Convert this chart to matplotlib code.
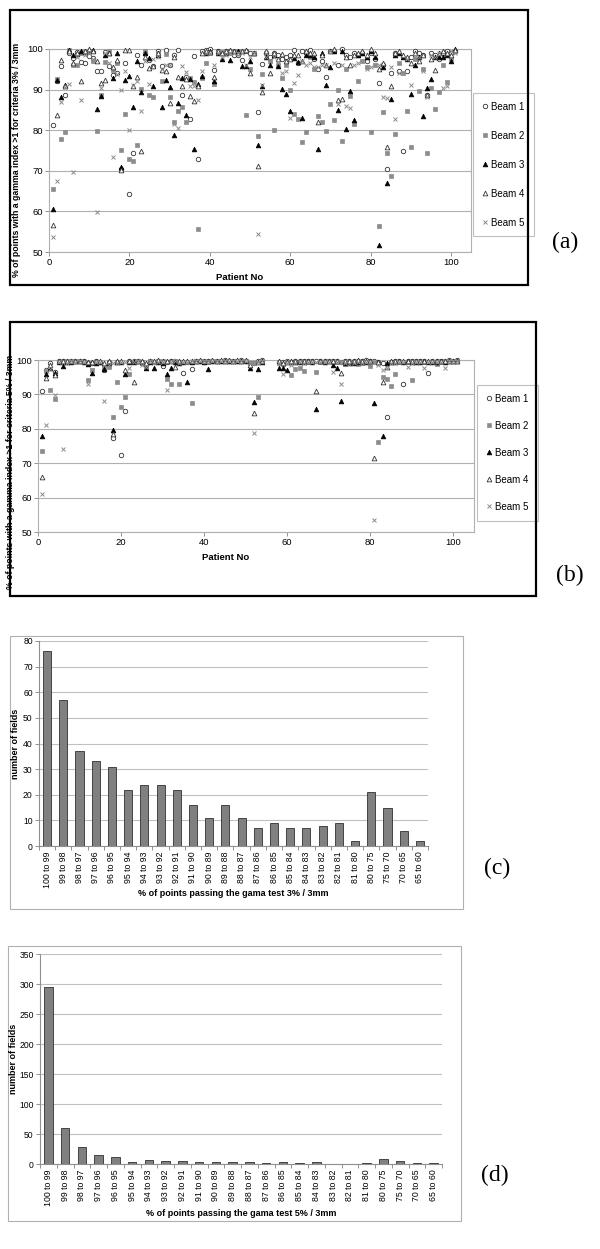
import numpy as np
import matplotlib
matplotlib.use('Agg')
import matplotlib.pyplot as plt
from matplotlib.patches import Rectangle
from matplotlib.lines import Line2D

plt.rcParams['font.family'] = ['Liberation Sans', 'DejaVu Sans']

nan = np.nan
patients = np.arange(1, 102)

# panel (a): criteria 3% / 3mm, one value per patient 1..101
a_beam1 = [81.3, 92.0, 95.9, 88.6, 99.0, 97.7, 99.2, 96.7, 96.5, 98.2,
           97.8, 94.6, 94.5, 99.2, 95.7, 93.5, 94.1, 70.5, 96.5, 64.2,
           74.5, 98.4, 96.0, 99.0, 97.3, 95.7, 99.5, 95.7, 99.7, 96.0,
           98.6, 99.7, 88.7, 93.0, 82.7, 98.2, 73.0, 99.4, 99.8, 100.0,
           94.9, 99.5, 99.0, 99.5, 99.5, 98.5, 98.5, 97.4, 99.5, 99.0,
           99.0, 84.6, 96.4, 99.0, 98.0, 99.0, 98.5, 97.5, 98.0, 98.5,
           99.7, 96.5, 99.5, 99.0, 99.8, 97.5, 95.0, 97.0, 93.0, 99.5,
           99.5, 96.0, 100.0, 98.5, 98.0, 99.0, 98.5, 99.0, 97.0, 99.0,
           97.5, 91.7, 96.0, 70.4, 94.0, 99.0, 94.5, 75.0, 94.5, 98.0,
           99.5, 99.0, 98.5, 88.6, 99.0, 98.5, 97.5, 99.0, 99.5, 99.0, 99.5]
a_beam2 = [65.6, 92.7, 77.8, 79.5, 99.8, 96.0, 96.0, 99.0, 99.5, 99.4,
           97.0, 79.7, 88.7, 96.7, 99.4, 94.9, 96.5, 75.1, 84.0, 72.8,
           72.3, 76.3, 90.1, 99.5, 88.7, 88.1, 99.0, 92.0, 98.8, 88.1,
           81.9, 84.8, 85.6, 82.0, 92.8, 91.8, 55.7, 92.8, 96.5, 99.0,
           91.4, 99.0, 99.2, 99.0, 99.0, 99.5, 99.5, 99.5, 83.8, 95.0,
           99.0, 78.6, 93.9, 99.0, 97.0, 80.1, 96.0, 92.8, 96.0, 89.9,
           84.0, 82.8, 77.2, 79.5, 98.0, 95.0, 83.4, 82.0, 79.8, 86.5,
           82.4, 90.0, 77.3, 95.0, 88.4, 81.6, 92.1, 97.0, 95.5, 79.6,
           96.0, 56.3, 84.6, 74.5, 68.6, 79.1, 96.5, 94.0, 84.7, 75.8,
           97.5, 89.6, 95.0, 74.4, 90.5, 85.1, 89.3, 96.0, 91.9, 97.5, 99.5]
a_beam3 = [60.5, 92.4, 88.3, 91.2, 99.8, 98.6, 98.8, 99.4, 99.3, 99.8,
           99.8, 85.3, 88.5, 98.4, 99.0, 92.8, 99.0, 71.0, 92.3, 93.4,
           85.8, 97.0, 89.3, 99.0, 97.8, 91.0, 98.5, 85.8, 92.4, 90.6,
           78.8, 86.7, 92.8, 83.8, 92.7, 75.4, 91.3, 93.4, 99.0, 99.5,
           92.0, 99.0, 97.5, 99.0, 97.4, 99.5, 99.5, 95.9, 95.9, 97.0,
           99.0, 76.4, 90.8, 98.0, 96.0, 98.5, 95.9, 90.2, 89.0, 84.8,
           97.7, 96.9, 83.0, 98.5, 98.5, 98.0, 75.3, 99.0, 91.1, 95.5,
           99.5, 85.0, 99.5, 80.4, 89.7, 82.6, 98.5, 99.0, 98.0, 99.5,
           98.0, 51.8, 95.5, 66.9, 87.8, 98.5, 99.0, 98.0, 97.5, 88.8,
           96.0, 98.0, 83.6, 90.4, 92.5, 98.0, 98.0, 98.0, 98.5, 97.0, 100.0]
a_beam4 = [56.7, 83.8, 97.4, 90.8, 99.5, 96.5, 99.0, 92.0, 99.6, 100.0,
           99.5, 97.0, 91.6, 92.4, 99.0, 95.5, 97.2, 70.1, 99.7, 99.7,
           91.0, 93.2, 74.9, 98.0, 95.3, 95.8, 99.0, 94.9, 94.7, 86.7,
           98.0, 93.0, 90.8, 92.5, 88.5, 87.1, 91.0, 99.0, 99.5, 99.2,
           93.1, 99.5, 99.0, 99.5, 99.8, 99.5, 99.0, 99.5, 99.8, 94.1,
           99.0, 71.3, 89.5, 99.5, 94.1, 99.0, 97.5, 98.8, 97.0, 97.5,
           98.5, 98.4, 97.0, 99.5, 99.0, 99.0, 82.0, 98.5, 96.0, 99.5,
           100.0, 87.5, 87.6, 98.0, 96.0, 98.5, 99.0, 99.5, 98.5, 100.0,
           99.0, 95.0, 96.5, 75.8, 90.9, 99.0, 99.5, 98.5, 98.0, 96.5,
           99.0, 97.0, 98.5, 88.6, 97.5, 94.8, 99.0, 99.5, 99.0, 98.5, 99.8]
a_beam5 = [53.6, 67.6, 86.9, 90.6, 91.4, 69.7, 98.0, 87.5, 98.5, 99.0,
           97.5, 59.9, 90.4, 98.9, 96.5, 73.5, 93.8, 90.0, 94.7, 80.1,
           91.2, 92.1, 84.8, 97.0, 91.3, 97.5, 98.0, 95.0, 96.0, 96.1,
           81.5, 80.6, 95.9, 94.3, 91.0, 90.8, 87.5, 94.6, 99.0, 99.0,
           96.0, 99.0, 98.0, 98.5, 99.0, 99.0, 99.0, 99.0, 96.0, 98.0,
           99.0, 54.4, 91.2, 98.0, 97.0, 98.0, 96.5, 94.0, 94.7, 83.1,
           91.6, 93.5, 97.0, 96.0, 96.5, 95.5, 95.5, 96.0, 96.0, 99.5,
           96.5, 86.5, 96.0, 85.9, 85.5, 96.0, 96.5, 97.0, 95.0, 95.5,
           96.0, 96.0, 88.3, 88.0, 95.5, 82.8, 94.0, 94.0, 97.5, 91.1,
           98.0, 98.0, 94.5, 88.2, 98.5, 98.0, 99.0, 90.4, 90.8, 99.5, 99.0]

# panel (b): criteria 5% / 3mm
b_beam1 = [91.1, 97.0, 99.0, 96.5, 99.8, 99.8, 99.5, 99.8, 99.7, 99.8,
           99.6, 99.0, 99.0, 99.8, 99.5, 97.1, 99.5, 77.3, 99.5, 72.4,
           85.3, 99.7, 99.6, 99.8, 99.5, 98.5, 99.8, 99.5, 99.8, 98.4,
           99.5, 99.6, 99.8, 99.5, 96.3, 99.5, 97.3, 99.7, 99.8, 99.8,
           99.7, 99.8, 99.7, 99.8, 99.9, 99.8, 99.7, 99.8, 99.9, 99.8,
           99.0, 99.2, 99.8, 100.0, nan, nan, nan, 99.5, 99.5, 99.6,
           99.5, 99.6, 99.8, 99.7, 99.8, 99.7, 99.6, 99.8, 99.7, 99.8,
           99.8, 99.7, 99.5, 99.8, 99.8, 99.7, 99.8, 99.6, 99.9, 99.7,
           99.6, 99.5, 99.0, 83.5, 99.5, 99.6, 99.8, 92.9, 99.7, 99.7,
           99.8, 99.7, 99.8, 96.1, 99.7, 99.8, 99.7, 99.8, 99.9, 99.8, 100.0]
b_beam2 = [73.6, 96.8, 91.3, 88.6, 99.5, 99.5, 99.8, 99.7, 99.6, 99.7,
           99.5, 94.1, 97.0, 99.5, 99.5, 98.0, 98.0, 83.3, 93.5, 86.4,
           89.3, 95.8, 99.5, 99.7, 99.0, 97.8, 99.7, 99.5, 99.7, 99.6,
           94.5, 93.1, 99.6, 92.9, 99.5, 99.3, 87.4, 99.6, 99.7, 99.6,
           99.5, 99.7, 99.6, 99.7, 99.8, 99.7, 99.6, 99.7, 99.8, 99.7,
           99.0, 99.0, 89.2, 99.8, nan, nan, nan, 99.0, 98.8, 99.3,
           95.6, 97.4, 97.7, 96.7, 99.5, 99.4, 96.4, 99.5, 99.4, 99.6,
           99.5, 99.4, 99.5, 98.8, 99.3, 99.0, 98.8, 99.2, 99.3, 98.4,
           99.4, 76.3, 95.0, 94.6, 92.3, 95.8, 99.3, 99.4, 99.5, 94.1,
           99.4, 99.5, 99.3, 99.5, 99.4, 98.8, 99.5, 99.6, 99.7, 99.8, 99.8]
b_beam3 = [77.8, 96.0, 97.8, 96.3, 99.5, 98.4, 99.5, 99.5, 99.6, 99.7,
           99.4, 98.8, 96.1, 99.0, 99.3, 97.3, 99.0, 79.7, 99.3, 99.5,
           95.8, 99.5, 99.5, 99.6, 99.3, 97.6, 99.5, 97.6, 99.5, 99.0,
           95.8, 97.8, 99.4, 99.2, 99.3, 93.7, 99.5, 99.6, 99.7, 99.5,
           97.5, 99.6, 99.7, 99.6, 99.7, 99.6, 99.7, 99.6, 99.7, 99.6,
           97.6, 87.9, 97.4, 99.5, nan, nan, nan, 97.8, 97.8, 97.1,
           99.5, 99.3, 99.5, 99.3, 99.6, 99.5, 85.9, 99.6, 99.5, 99.6,
           98.5, 97.6, 88.2, 99.2, 99.0, 99.1, 99.4, 99.4, 99.5, 99.6,
           87.4, 99.3, 77.9, 99.0, 99.5, 99.3, 99.6, 99.5, 99.6, 99.4,
           99.5, 99.4, 99.6, 99.3, 99.5, 99.4, 99.6, 99.5, 99.7, 99.6, 99.8]
b_beam4 = [65.9, 94.9, 98.5, 95.6, 99.8, 99.8, 99.7, 99.8, 99.8, 99.8,
           99.7, 99.5, 99.5, 99.8, 99.8, 99.0, 99.8, 78.4, 99.8, 99.8,
           97.1, 99.8, 93.7, 99.8, 99.6, 99.0, 99.8, 99.7, 99.9, 99.8,
           99.7, 99.8, 97.9, 99.7, 99.8, 99.7, 99.8, 99.8, 99.9, 99.8,
           99.8, 99.9, 99.8, 99.9, 99.8, 99.9, 99.8, 99.9, 99.8, 99.9,
           98.6, 84.7, 99.5, 99.8, nan, nan, nan, 99.8, 99.0, 99.5,
           99.8, 99.7, 99.8, 99.8, 99.8, 99.8, 90.9, 99.8, 99.7, 99.8,
           99.7, 99.8, 96.3, 99.6, 99.7, 99.8, 99.9, 99.7, 99.8, 99.8,
           71.4, 99.5, 93.6, 98.0, 99.6, 99.7, 99.8, 99.8, 99.8, 99.8,
           99.8, 99.7, 99.8, 99.8, 99.7, 99.8, 99.8, 99.7, 99.8, 99.8, 99.8]
b_beam5 = [61.1, 81.0, 97.5, 89.8, 99.5, 74.0, 99.0, 99.6, 99.5, 99.6,
           99.5, 92.9, 97.1, 99.5, 99.5, 88.1, 98.5, 99.0, 99.0, 99.5,
           99.5, 97.8, 99.5, 99.7, 98.5, 98.0, 99.7, 99.2, 99.5, 99.5,
           91.2, 99.5, 99.6, 99.0, 99.3, 99.5, 99.6, 99.6, 99.7, 99.6,
           99.6, 99.7, 99.6, 99.7, 99.6, 99.7, 99.6, 99.7, 99.6, 99.7,
           99.0, 78.7, 99.5, 99.7, nan, nan, nan, 99.0, 95.8, 99.0,
           98.5, 99.0, 99.5, 99.2, 99.5, 99.4, 99.3, 99.5, 99.4, 99.5,
           96.5, 99.3, 92.9, 99.0, 98.8, 99.2, 99.5, 99.1, 99.4, 99.5,
           53.5, 98.5, 97.0, 97.8, 99.0, 99.2, 99.4, 99.3, 98.0, 99.2,
           99.4, 99.5, 97.7, 99.4, 99.5, 99.3, 99.5, 97.7, 99.6, 99.7, 99.8]

# panels (c) and (d): histogram of fields
bins = ['100 to 99', '99 to 98', '98 to 97', '97 to 96', '96 to 95', '95 to 94',
        '94 to 93', '93 to 92', '92 to 91', '91 to 90', '90 to 89', '89 to 88',
        '88 to 87', '87 to 86', '86 to 85', '85 to 84', '84 to 83', '83 to 82',
        '82 to 81', '81 to 80', '80 to 75', '75 to 70', '70 to 65', '65 to 60']
fields_3 = [76, 57, 37, 33, 31, 22, 24, 24, 22, 16, 11, 16,
            11, 7, 9, 7, 7, 8, 9, 2, 21, 15, 6, 2]
fields_5 = [295, 60, 28, 15, 12, 3, 7, 5, 5, 3, 3, 4,
            4, 2, 3, 2, 3, 0, 0, 2, 8, 5, 2, 2]

beam_names = ['Beam 1', 'Beam 2', 'Beam 3', 'Beam 4', 'Beam 5']
styles = [dict(marker='o', ms=3.2, mfc='white', mec='#333333', mew=0.6),
          dict(marker='s', ms=2.6, mfc='#8c8c8c', mec='#8c8c8c', mew=0.5),
          dict(marker='^', ms=3.4, mfc='black', mec='black', mew=0.5),
          dict(marker='^', ms=3.4, mfc='white', mec='#333333', mew=0.6),
          dict(marker='x', ms=3.0, mec='#8c8c8c', mew=0.7)]

W, H = 600, 1249
fig = plt.figure(figsize=(W / 100, H / 100), dpi=100)


def rect(x0, y0, x1, y1):
    return [x0 / W, 1 - y1 / H, (x1 - x0) / W, (y1 - y0) / H]


def frame(x0, y0, x1, y1, color, lw):
    r = rect(x0, y0, x1, y1)
    fig.patches.append(Rectangle((r[0], r[1]), r[2], r[3], fill=False,
                                 edgecolor=color, linewidth=lw,
                                 transform=fig.transFigure, zorder=0))


def scatter_panel(box, series, ylab, ylab_xy, xlab_xy, leg_xy, leg_space):
    ax = fig.add_axes(rect(*box))
    for vals, st in zip(series, styles):
        ax.plot(patients, vals, linestyle='none', clip_on=False, zorder=3, **st)
    ax.set_xlim(0, 105)
    ax.set_ylim(50, 100)
    ax.set_xticks([0, 20, 40, 60, 80, 100])
    ax.set_yticks([50, 60, 70, 80, 90, 100])
    ax.grid(axis='y', color='#b0b0b0', linewidth=0.8)
    ax.set_axisbelow(True)
    for s in ax.spines.values():
        s.set_color('#b0b0b0')
        s.set_linewidth(0.8)
    ax.tick_params(labelsize=6.8, length=3, width=0.6, color='#808080', pad=1.5)
    fig.text(ylab_xy[0] / W, 1 - ylab_xy[1] / H, ylab, rotation=90,
             fontsize=6.3, fontweight='bold', ha='center', va='center')
    fig.text(xlab_xy[0] / W, 1 - xlab_xy[1] / H, 'Patient No',
             fontsize=6.8, fontweight='bold', ha='center', va='center')
    handles = [Line2D([], [], linestyle='none', **st) for st in styles]
    leg = ax.legend(handles, beam_names, loc='upper left',
                    bbox_to_anchor=(leg_xy[0] / W, 1 - leg_xy[1] / H),
                    bbox_transform=fig.transFigure, fontsize=7,
                    frameon=True, fancybox=False, edgecolor='#b0b0b0',
                    labelspacing=leg_space, handlelength=0.6,
                    handletextpad=0.4, borderpad=0.9, borderaxespad=0)
    leg.get_frame().set_linewidth(0.8)
    return ax


def bar_panel(box, vals, ymax, ystep, xlab, xlab_y, ylab_x):
    ax = fig.add_axes(rect(*box))
    x = np.arange(len(bins))
    ax.bar(x, vals, width=0.5, color='#808080', edgecolor='#303030',
           linewidth=0.6, zorder=3)
    ax.set_xlim(-0.5, len(bins) - 0.5)
    ax.set_ylim(0, ymax)
    ax.set_yticks(np.arange(0, ymax + 1, ystep))
    ax.set_xticks(x)
    ax.set_xticklabels(bins, rotation=90, fontsize=6.3)
    ax.set_xticks(np.arange(-0.5, len(bins), 1), minor=True)
    ax.tick_params(axis='x', which='major', length=0, pad=4)
    ax.tick_params(axis='x', which='minor', length=3, width=0.6, color='#808080')
    ax.tick_params(axis='y', labelsize=6.2, length=3, width=0.6,
                   color='#808080', pad=1.5)
    ax.grid(axis='y', color='#c0c0c0', linewidth=0.8)
    ax.set_axisbelow(True)
    for side in ['top', 'right']:
        ax.spines[side].set_visible(False)
    for side in ['left', 'bottom']:
        ax.spines[side].set_color('#909090')
        ax.spines[side].set_linewidth(0.8)
    cx = (box[0] + box[2]) / 2
    fig.text(cx / W, 1 - xlab_y / H, xlab, fontsize=6.5, fontweight='bold',
             ha='center', va='center')
    fig.text(ylab_x / W, 1 - (box[1] + box[3]) / 2 / H, 'number of fields',
             rotation=90, fontsize=6.5, fontweight='bold', ha='center',
             va='center')
    return ax


# (a)
frame(10, 10, 528, 285, 'black', 1.6)
scatter_panel((49, 49, 471, 252),
              [a_beam1, a_beam2, a_beam3, a_beam4, a_beam5],
              '% of points with a gamma index >1 for criteria 3% / 3mm',
              (17, 160), (240, 277), (473, 93), 1.95)

# (b)
frame(10, 322, 536, 596, 'black', 1.6)
scatter_panel((38, 360, 474, 532),
              [b_beam1, b_beam2, b_beam3, b_beam4, b_beam5],
              '% of points with a gamma index >1 for criteria 5% / 3mm',
              (11, 472), (226, 558), (477, 385), 1.75)

# (c)
frame(10, 636, 463, 909, '#b0b0b0', 0.8)
bar_panel((39, 641, 428, 846), fields_3, 80, 10,
          '% of points passing the gama test 3% / 3mm', 893, 16)

# (d)
frame(8, 946, 461, 1221, '#b0b0b0', 0.8)
bar_panel((40, 954, 442, 1164), fields_5, 350, 50,
          '% of points passing the gama test 5% / 3mm', 1213, 14)

for lab, (lx, ly) in zip(['(a)', '(b)', '(c)', '(d)'],
                         [(565, 242), (570, 575), (497, 868), (495, 1175)]):
    fig.text(lx / W, 1 - ly / H, lab, fontsize=17, family='Liberation Serif',
             ha='center', va='center')

fig.savefig('out.png', dpi=100)
